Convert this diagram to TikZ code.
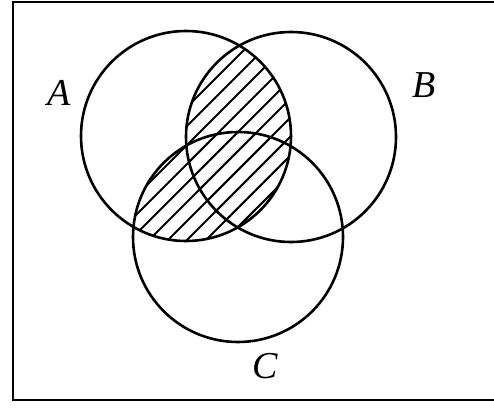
\documentclass[tikz,border=0pt]{standalone}
\usepackage{fontspec}
\setmainfont{Liberation Serif}
\begin{document}
\begin{tikzpicture}[x=1pt,y=-1pt,
  setline/.style={line width=2.6pt},
  hatchline/.style={line width=2pt},
  setlabel/.style={font=\fontsize{38}{38}\selectfont\itshape, inner sep=0pt}]

  \clip (0,0) rectangle (494,409);

  % centres of the three sets
  \coordinate (cA) at (186,136);
  \coordinate (cB) at (291,137);
  \coordinate (cC) at (238,237);

  % hatched part: A cap B and A cap C
  \begin{scope}
    \clip (cA) circle (105);
    \clip (cB) circle (105);
    \foreach \k in {180,199,...,560}
    {
        \draw[hatchline] (\k,0) -- (\k-420,420);
    }
  \end{scope}
  \begin{scope}
    \clip (cA) circle (105);
    \clip (cC) circle (105);
    \foreach \k in {180,199,...,560}
    {
        \draw[hatchline] (\k,0) -- (\k-420,420);
    }
  \end{scope}

  \draw[setline] (cA) circle (105);
  \draw[setline] (cB) circle (105);
  \draw[setline] (cC) circle (105);

  % universal set, right side runs off the picture
  \draw[line width=2.6pt] (13,2) rectangle (505,400);

  \node[setlabel] (labA) at (59,93) {A};
  \node[setlabel] (labB) at (424,85) {B};
  \node[setlabel] (labC) at (265,366) {C};

\end{tikzpicture}
\end{document}
